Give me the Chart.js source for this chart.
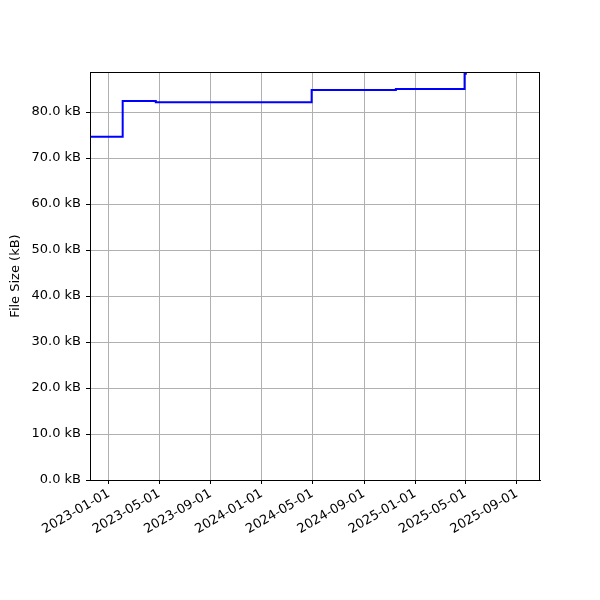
<!DOCTYPE html>
<html>
<head>
<meta charset="utf-8">
<script src="https://cdn.jsdelivr.net/npm/chart.js@4.4.0/dist/chart.umd.min.js"></script>
<style>
  html, body { margin: 0; padding: 0; background: #fff; }
  #c { display: block; }
</style>
</head>
<body>
<canvas id="c" width="600" height="600"></canvas>
<script>
// Změny velikosti souboru v čase (stupňovitě, hodnota platí do další změny).
const changeDates = ['2022-11-17', '2023-02-03', '2023-04-23', '2024-04-29', '2024-11-16', '2025-04-29', '2025-05-02'];
const sizesKB = [74.6, 82.4, 82.1, 84.8, 85.0, 88.3, 100.0];
const tickDates = ['2023-01-01', '2023-05-01', '2023-09-01', '2024-01-01', '2024-05-01', '2024-09-01', '2025-01-01', '2025-05-01', '2025-09-01'];
const yTicks = [0, 10, 20, 30, 40, 50, 60, 70, 80];
const xRange = ['2022-11-17', '2025-10-26'];
const yRange = [0, 88.7];

const ms = (s) => Date.parse(s + 'T00:00:00Z');
const ymd = (v) => new Date(v).toISOString().slice(0, 10);

Chart.defaults.font.family = "'DejaVu Sans', sans-serif";
Chart.defaults.font.size = 13;
Chart.defaults.color = '#000';

// Matplotlib má rámeček kolem celé plochy grafu.
const frame = {
    id: 'frame',
    afterDraw(chart) {
        const { ctx, chartArea: a } = chart;
        ctx.save();
        ctx.strokeStyle = '#000';
        ctx.lineWidth = 1;
        ctx.strokeRect(a.left + 0.5, a.top + 0.5, a.right - a.left - 1, a.bottom - a.top);
        ctx.restore();
    },
};

new Chart(document.getElementById('c'), {
    type: 'line',
    data: {
        datasets: [{
            label: 'File Size',
            data: changeDates.map((d, i) => ({ x: ms(d), y: sizesKB[i] })),
            borderColor: '#0000ff',
            borderWidth: 2,
            pointRadius: 0,
            stepped: 'before',
            fill: false,
            clip: 0,
        }],
    },
    options: {
        responsive: false,
        animation: false,
        devicePixelRatio: 1,
        layout: { padding: { top: 72, right: 60, left: 0, bottom: 0 } },
        plugins: { legend: { display: false }, tooltip: { enabled: false } },
        scales: {
            x: {
                type: 'linear',
                min: ms(xRange[0]),
                max: ms(xRange[1]),
                afterBuildTicks: (s) => { s.ticks = tickDates.map((d) => ({ value: ms(d) })); },
                afterFit: (s) => { s.height = 120; },
                ticks: {
                    callback: (v) => ymd(v),
                    minRotation: 30,
                    maxRotation: 30,
                    padding: 2,
                    autoSkip: false,
                },
                grid: { color: '#b0b0b0', lineWidth: 1, tickColor: '#000', tickLength: 4 },
                border: { color: '#000' },
            },
            y: {
                min: yRange[0],
                max: yRange[1],
                afterBuildTicks: (s) => { s.ticks = yTicks.map((v) => ({ value: v })); },
                afterFit: (s) => { s.width = 90; },
                ticks: { callback: (v) => v.toFixed(1) + ' kB', padding: 5 },
                title: { display: true, text: 'File Size (kB)', padding: { top: 8, bottom: 0 } },
                grid: { color: '#b0b0b0', lineWidth: 1, tickColor: '#000', tickLength: 4 },
                border: { color: '#000' },
            },
        },
    },
    plugins: [frame],
});
</script>
</body>
</html>
